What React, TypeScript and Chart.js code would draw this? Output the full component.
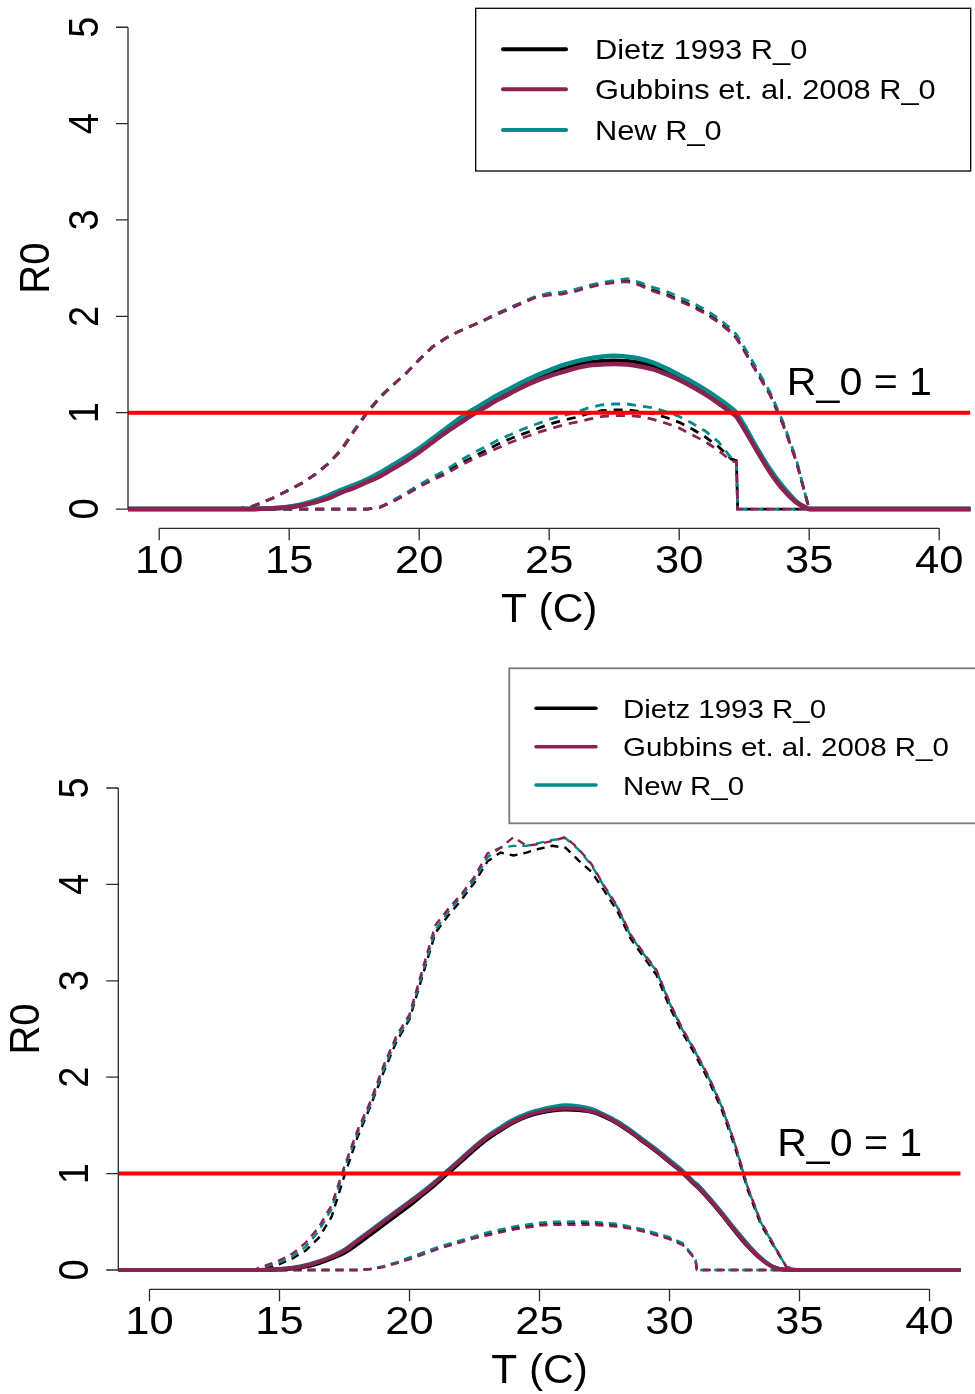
import { useEffect, useRef } from "react";
import { Chart, registerables } from "chart.js";

Chart.register(...registerables);

// ---- shared axis / label content ----
const X_TICKS = [10, 15, 20, 25, 30, 35, 40];
const Y_TICKS = [0, 1, 2, 3, 4, 5];
const X_MIN = 8.8;
const X_MAX = 41.2;
const Y_MIN = -0.2;
const Y_MAX = 5.2;
const X_TITLE = "T (C)";
const Y_TITLE = "R0";
const THRESHOLD = 1;
const THRESHOLD_LABEL = "R_0 = 1";
const THRESHOLD_LABEL_AT = [36.93, 1.18];
const LEGEND_LABELS = ["Dietz 1993 R_0", "Gubbins et. al. 2008 R_0", "New R_0"];
const SERIES_COLORS = ["#000000", "#8B2252", "#008B8B"];
const THRESHOLD_COLOR = "#FF0000";

// ---- panel A (upper figure) ----
const TEMP_A = [8, 13, 13.5, 14, 14.5, 15, 15.5, 16, 16.5, 17, 17.5, 18, 18.5, 19, 19.5, 20, 20.5, 21, 21.5, 22, 22.5, 23, 23.5, 24, 24.5, 25, 25.5, 26, 26.5, 27, 27.5, 28, 28.5, 29, 29.5, 30, 30.5, 31, 31.5, 32, 32.2, 32.25, 32.5, 33, 33.5, 34, 34.5, 34.9, 35, 42];

const DIETZ_A = [0, 0, 0, 0.004, 0.01, 0.02, 0.045, 0.08, 0.13, 0.19, 0.24, 0.30, 0.36, 0.44, 0.52, 0.61, 0.71, 0.81, 0.90, 0.99, 1.07, 1.15, 1.22, 1.29, 1.35, 1.40, 1.45, 1.49, 1.52, 1.535, 1.54, 1.535, 1.515, 1.48, 1.43, 1.36, 1.29, 1.21, 1.12, 1.02, 0.98, 0.96, 0.85, 0.61, 0.39, 0.21, 0.07, 0.01, 0, 0];
const GUBBINS_A = [0, 0, 0, 0.003, 0.008, 0.018, 0.04, 0.07, 0.11, 0.17, 0.22, 0.28, 0.34, 0.42, 0.50, 0.59, 0.69, 0.79, 0.88, 0.97, 1.05, 1.13, 1.20, 1.27, 1.33, 1.38, 1.42, 1.46, 1.49, 1.50, 1.505, 1.50, 1.48, 1.45, 1.40, 1.34, 1.27, 1.19, 1.10, 1.00, 0.96, 0.94, 0.83, 0.60, 0.38, 0.20, 0.07, 0.01, 0, 0];
const NEW_A = [0, 0, 0, 0.005, 0.012, 0.025, 0.05, 0.09, 0.14, 0.20, 0.25, 0.31, 0.38, 0.46, 0.54, 0.63, 0.73, 0.83, 0.93, 1.02, 1.10, 1.18, 1.25, 1.32, 1.385, 1.44, 1.49, 1.53, 1.56, 1.58, 1.59, 1.58, 1.56, 1.52, 1.46, 1.39, 1.32, 1.24, 1.15, 1.05, 1.00, 0.98, 0.87, 0.63, 0.41, 0.23, 0.08, 0.01, 0, 0];

const DIETZ_A_UPPER = [0, 0, 0.02, 0.07, 0.13, 0.20, 0.27, 0.36, 0.47, 0.61, 0.81, 1.00, 1.16, 1.29, 1.41, 1.55, 1.68, 1.77, 1.84, 1.90, 1.96, 2.03, 2.09, 2.15, 2.20, 2.23, 2.24, 2.27, 2.31, 2.34, 2.36, 2.37, 2.33, 2.27, 2.23, 2.17, 2.11, 2.04, 1.95, 1.84, 1.78, 1.76, 1.65, 1.42, 1.19, 0.88, 0.50, 0.10, 0, 0];
const GUBBINS_A_UPPER = [0, 0, 0.02, 0.07, 0.13, 0.20, 0.27, 0.36, 0.47, 0.61, 0.81, 1.00, 1.16, 1.29, 1.41, 1.55, 1.68, 1.77, 1.84, 1.90, 1.96, 2.02, 2.08, 2.14, 2.20, 2.22, 2.23, 2.26, 2.30, 2.33, 2.35, 2.36, 2.32, 2.26, 2.22, 2.16, 2.10, 2.03, 1.94, 1.83, 1.77, 1.75, 1.64, 1.41, 1.18, 0.87, 0.50, 0.10, 0, 0];
const NEW_A_UPPER = [0, 0, 0.02, 0.07, 0.13, 0.20, 0.27, 0.36, 0.47, 0.62, 0.82, 1.01, 1.17, 1.29, 1.41, 1.55, 1.68, 1.77, 1.84, 1.90, 1.96, 2.03, 2.09, 2.15, 2.21, 2.24, 2.25, 2.28, 2.32, 2.35, 2.37, 2.39, 2.35, 2.30, 2.26, 2.20, 2.14, 2.07, 1.98, 1.87, 1.81, 1.79, 1.68, 1.45, 1.21, 0.90, 0.52, 0.10, 0, 0];

const DIETZ_A_LOWER = [0, 0, 0, 0, 0, 0, 0, 0, 0, 0, 0, 0, 0.02, 0.08, 0.16, 0.24, 0.31, 0.38, 0.46, 0.53, 0.60, 0.67, 0.73, 0.78, 0.83, 0.88, 0.92, 0.95, 0.99, 1.02, 1.03, 1.03, 1.01, 0.99, 0.95, 0.90, 0.83, 0.75, 0.65, 0.52, 0.50, 0, 0, 0, 0, 0, 0, 0, 0, 0];
const GUBBINS_A_LOWER = [0, 0, 0, 0, 0, 0, 0, 0, 0, 0, 0, 0, 0.02, 0.08, 0.15, 0.23, 0.30, 0.36, 0.44, 0.51, 0.57, 0.63, 0.69, 0.74, 0.79, 0.83, 0.87, 0.90, 0.93, 0.96, 0.97, 0.97, 0.96, 0.93, 0.89, 0.84, 0.77, 0.70, 0.61, 0.50, 0.49, 0, 0, 0, 0, 0, 0, 0, 0, 0];
const NEW_A_LOWER = [0, 0, 0, 0, 0, 0, 0, 0, 0, 0, 0, 0, 0.02, 0.09, 0.17, 0.25, 0.33, 0.40, 0.49, 0.57, 0.64, 0.71, 0.77, 0.83, 0.88, 0.93, 0.97, 1.00, 1.05, 1.08, 1.09, 1.09, 1.07, 1.05, 1.01, 0.96, 0.89, 0.81, 0.70, 0.53, 0.50, 0, 0, 0, 0, 0, 0, 0, 0, 0];

// ---- panel B (lower figure) ----
const TEMP_B = [8, 14, 14.5, 15, 15.5, 16, 16.5, 17, 17.5, 18, 18.5, 19, 19.5, 20, 20.5, 21, 21.5, 22, 22.5, 23, 23.5, 24, 24.5, 25, 25.5, 26, 26.5, 27, 27.5, 28, 28.5, 29, 29.5, 30, 30.5, 31, 31.05, 31.5, 32, 32.5, 33, 33.5, 34, 34.5, 35, 42];

const DIETZ_B = [0, 0, 0, 0.005, 0.015, 0.035, 0.07, 0.12, 0.18, 0.27, 0.37, 0.47, 0.57, 0.67, 0.78, 0.89, 1.01, 1.13, 1.25, 1.36, 1.45, 1.53, 1.59, 1.63, 1.655, 1.665, 1.66, 1.64, 1.59, 1.52, 1.43, 1.33, 1.23, 1.12, 1.01, 0.88, 0.87, 0.74, 0.58, 0.41, 0.25, 0.12, 0.03, 0, 0, 0];
const GUBBINS_B = [0, 0, 0.003, 0.01, 0.022, 0.045, 0.085, 0.135, 0.20, 0.30, 0.40, 0.50, 0.60, 0.70, 0.80, 0.91, 1.03, 1.15, 1.27, 1.38, 1.46, 1.54, 1.60, 1.64, 1.665, 1.675, 1.67, 1.645, 1.60, 1.525, 1.435, 1.335, 1.235, 1.125, 1.015, 0.885, 0.875, 0.745, 0.585, 0.415, 0.255, 0.12, 0.03, 0, 0, 0];
const NEW_B = [0, 0, 0.003, 0.01, 0.025, 0.05, 0.09, 0.14, 0.21, 0.31, 0.41, 0.51, 0.61, 0.71, 0.81, 0.92, 1.04, 1.16, 1.28, 1.39, 1.48, 1.56, 1.62, 1.66, 1.69, 1.71, 1.70, 1.67, 1.61, 1.54, 1.45, 1.35, 1.25, 1.14, 1.03, 0.90, 0.89, 0.76, 0.60, 0.43, 0.27, 0.13, 0.03, 0, 0, 0];

const DIETZ_B_UPPER = [0, 0, 0.02, 0.06, 0.12, 0.20, 0.33, 0.55, 0.98, 1.38, 1.70, 2.05, 2.37, 2.60, 3.05, 3.50, 3.68, 3.84, 4.02, 4.24, 4.33, 4.30, 4.33, 4.37, 4.40, 4.38, 4.25, 4.13, 3.93, 3.72, 3.44, 3.25, 3.06, 2.73, 2.46, 2.23, 2.20, 1.97, 1.67, 1.29, 0.84, 0.48, 0.25, 0.03, 0, 0];
const GUBBINS_B_UPPER = [0, 0, 0.05, 0.10, 0.17, 0.28, 0.44, 0.67, 1.08, 1.45, 1.75, 2.12, 2.43, 2.65, 3.12, 3.58, 3.75, 3.90, 4.08, 4.32, 4.38, 4.49, 4.40, 4.42, 4.45, 4.49, 4.37, 4.21, 3.98, 3.77, 3.48, 3.29, 3.11, 2.78, 2.50, 2.27, 2.24, 2.01, 1.71, 1.33, 0.87, 0.51, 0.27, 0.03, 0, 0];
const NEW_B_UPPER = [0, 0, 0.04, 0.08, 0.14, 0.24, 0.40, 0.63, 1.05, 1.42, 1.72, 2.08, 2.40, 2.62, 3.08, 3.53, 3.72, 3.88, 4.05, 4.28, 4.38, 4.40, 4.40, 4.43, 4.46, 4.48, 4.36, 4.20, 3.97, 3.76, 3.47, 3.28, 3.10, 2.77, 2.49, 2.26, 2.23, 2.00, 1.70, 1.32, 0.86, 0.50, 0.26, 0.03, 0, 0];

const DIETZ_B_LOWER = [0, 0, 0, 0, 0, 0, 0, 0, 0, 0, 0.01, 0.035, 0.075, 0.12, 0.17, 0.22, 0.26, 0.30, 0.34, 0.375, 0.405, 0.435, 0.455, 0.475, 0.485, 0.485, 0.49, 0.485, 0.475, 0.465, 0.44, 0.41, 0.37, 0.33, 0.27, 0.115, 0, 0, 0, 0, 0, 0, 0, 0, 0, 0];
const GUBBINS_B_LOWER = [0, 0, 0, 0, 0, 0, 0, 0, 0, 0, 0.01, 0.03, 0.07, 0.11, 0.16, 0.21, 0.25, 0.29, 0.33, 0.36, 0.39, 0.42, 0.44, 0.46, 0.47, 0.47, 0.47, 0.47, 0.46, 0.45, 0.43, 0.40, 0.36, 0.32, 0.26, 0.11, 0, 0, 0, 0, 0, 0, 0, 0, 0, 0];
const NEW_B_LOWER = [0, 0, 0, 0, 0, 0, 0, 0, 0, 0, 0.01, 0.04, 0.08, 0.13, 0.18, 0.23, 0.27, 0.31, 0.35, 0.39, 0.42, 0.45, 0.47, 0.49, 0.50, 0.50, 0.505, 0.50, 0.49, 0.48, 0.45, 0.42, 0.38, 0.34, 0.28, 0.12, 0, 0, 0, 0, 0, 0, 0, 0, 0, 0];

// ---- styling & layout ----
const FONT = '"Liberation Sans", Arial, Helvetica, sans-serif';
const AXIS_COLOR = "#2a2a2a";
const TICK_LEN = 12;

type LegendLayout = {
  x: number; y: number; w: number; h: number;
  rows: number[]; lineX0: number; lineX1: number; textX: number; textDy: number;
  font: number; lineW: number; border: string; borderW: number;
};

type PanelSpec = {
  top: number;
  height: number;
  pad: { left: number; right: number; top: number; bottom: number };
  legend: LegendLayout;
  solidW: number;
  dashW: number;
  dash: number[];
  temps: number[];
  mean: number[][];
  upper: number[][];
  lower: number[][];
};

const PANELS: PanelSpec[] = [
  {
    top: 0,
    height: 650,
    pad: { left: 128, right: 4.6, top: 8.0, bottom: 121.7 },
    legend: { x: 475.7, y: 8.3, w: 495, h: 162.7, rows: [49.3, 89.3, 130], lineX0: 503, lineX1: 566, textX: 595, textDy: 10, font: 27.5, lineW: 4, border: "#000000", borderW: 1.3 },
    solidW: 4.5,
    dashW: 2.8,
    dash: [9, 7],
    temps: TEMP_A,
    mean: [DIETZ_A, GUBBINS_A, NEW_A],
    upper: [DIETZ_A_UPPER, GUBBINS_A_UPPER, NEW_A_UPPER],
    lower: [DIETZ_A_LOWER, GUBBINS_A_LOWER, NEW_A_LOWER],
  },
  {
    top: 650,
    height: 744,
    pad: { left: 118.3, right: 14.3, top: 118.7, bottom: 104.7 },
    legend: { x: 509.3, y: 18.3, w: 495, h: 155, rows: [58.3, 96.7, 135], lineX0: 536, lineX1: 596, textX: 623, textDy: 9.5, font: 26.3, lineW: 3.5, border: "#7a7a7a", borderW: 1.8 },
    solidW: 4,
    dashW: 2.4,
    dash: [8, 6],
    temps: TEMP_B,
    mean: [DIETZ_B, GUBBINS_B, NEW_B],
    upper: [DIETZ_B_UPPER, GUBBINS_B_UPPER, NEW_B_UPPER],
    lower: [DIETZ_B_LOWER, GUBBINS_B_LOWER, NEW_B_LOWER],
  },
];

function drawText(
  ctx: CanvasRenderingContext2D,
  text: string,
  x: number,
  y: number,
  size: number,
  opts: { align?: CanvasTextAlign; rotate?: number; stretch?: number } = {}
) {
  const { align = "center", rotate = 0, stretch = 1.12 } = opts;
  ctx.save();
  ctx.translate(x, y);
  ctx.scale(stretch, 1);
  if (rotate) ctx.rotate(rotate);
  ctx.font = `${size}px ${FONT}`;
  ctx.textAlign = align;
  ctx.textBaseline = "alphabetic";
  ctx.fillStyle = "#000";
  ctx.fillText(text, 0, 0);
  ctx.restore();
}

function framePlugin(spec: PanelSpec) {
  return {
    id: "rFrame",
    afterDraw(chart: any) {
      const { ctx, chartArea: ca } = chart;
      const xs = chart.scales.x;
      const ys = chart.scales.y;
      ctx.save();

      // axes: line spans first..last tick, ticks point outward
      ctx.strokeStyle = AXIS_COLOR;
      ctx.lineWidth = 1.3;
      ctx.beginPath();
      const xa = xs.getPixelForValue(X_TICKS[0]);
      const xb = xs.getPixelForValue(X_TICKS[X_TICKS.length - 1]);
      ctx.moveTo(xa, ca.bottom);
      ctx.lineTo(xb, ca.bottom);
      X_TICKS.forEach((t) => {
        const px = xs.getPixelForValue(t);
        ctx.moveTo(px, ca.bottom);
        ctx.lineTo(px, ca.bottom + TICK_LEN);
      });
      const ya = ys.getPixelForValue(Y_TICKS[0]);
      const yb = ys.getPixelForValue(Y_TICKS[Y_TICKS.length - 1]);
      ctx.moveTo(ca.left, ya);
      ctx.lineTo(ca.left, yb);
      Y_TICKS.forEach((v) => {
        const py = ys.getPixelForValue(v);
        ctx.moveTo(ca.left, py);
        ctx.lineTo(ca.left - TICK_LEN, py);
      });
      ctx.stroke();

      // tick labels
      X_TICKS.forEach((t) => {
        drawText(ctx, String(t), xs.getPixelForValue(t), ca.bottom + 44.7, 38.5, { stretch: 1.13 });
      });
      Y_TICKS.forEach((v) => {
        drawText(ctx, String(v), ca.left - 30, ys.getPixelForValue(v), 38, { rotate: -Math.PI / 2, stretch: 1.12 });
      });

      // axis titles
      drawText(ctx, X_TITLE, (ca.left + ca.right) / 2, ca.bottom + 94, 40, { stretch: 1.06 });
      drawText(ctx, Y_TITLE, ca.left - 79, (ca.top + ca.bottom) / 2, 40, { rotate: -Math.PI / 2, stretch: 1.08 });

      // threshold annotation
      drawText(
        ctx,
        THRESHOLD_LABEL,
        xs.getPixelForValue(THRESHOLD_LABEL_AT[0]),
        ys.getPixelForValue(THRESHOLD_LABEL_AT[1]),
        39.5,
        { stretch: 1.04 }
      );

      // legend
      const L = spec.legend;
      ctx.fillStyle = "#ffffff";
      ctx.fillRect(L.x, L.y, L.w, L.h);
      ctx.strokeStyle = L.border;
      ctx.lineWidth = L.borderW;
      ctx.strokeRect(L.x, L.y, L.w, L.h);
      LEGEND_LABELS.forEach((label, i) => {
        const ry = L.rows[i];
        ctx.strokeStyle = SERIES_COLORS[i];
        ctx.lineWidth = L.lineW;
        ctx.lineCap = "round";
        ctx.beginPath();
        ctx.moveTo(L.lineX0, ry);
        ctx.lineTo(L.lineX1, ry);
        ctx.stroke();
        drawText(ctx, label, L.textX, ry + L.textDy, L.font, { align: "left", stretch: 1.12 });
      });

      ctx.restore();
    },
  };
}

function buildDatasets(spec: PanelSpec) {
  const pts = (vals: number[]) => spec.temps.map((t, i) => ({ x: t, y: vals[i] }));
  const drawOrder = [0, 2, 1]; // black, teal, then purple on top
  const list: any[] = [];
  [spec.upper, spec.lower].forEach((band) => {
    drawOrder.forEach((k) => {
      list.push({
        data: pts(band[k]),
        borderColor: SERIES_COLORS[k],
        borderWidth: spec.dashW,
        borderDash: spec.dash,
        pointRadius: 0,
        tension: 0,
        fill: false,
      });
    });
  });
  drawOrder.forEach((k) => {
    list.push({
      data: pts(spec.mean[k]),
      borderColor: SERIES_COLORS[k],
      borderWidth: spec.solidW,
      borderCapStyle: "round",
      borderJoinStyle: "round",
      cubicInterpolationMode: "monotone",
      pointRadius: 0,
      fill: false,
    });
  });
  list.push({
    data: [
      { x: X_MIN, y: THRESHOLD },
      { x: X_MAX, y: THRESHOLD },
    ],
    borderColor: THRESHOLD_COLOR,
    borderWidth: 4,
    pointRadius: 0,
    fill: false,
  });
  // earlier entries are painted first
  return list.map((d, i) => ({ ...d, order: list.length - i }));
}

function Panel({ spec }: { spec: PanelSpec }) {
  const ref = useRef<HTMLCanvasElement | null>(null);
  useEffect(() => {
    if (!ref.current) return;
    const chart = new Chart(ref.current, {
      type: "line",
      data: { datasets: buildDatasets(spec) },
      options: {
        animation: false,
        responsive: false,
        maintainAspectRatio: false,
        devicePixelRatio: 1,
        events: [],
        layout: { padding: spec.pad },
        plugins: {
          legend: { display: false },
          tooltip: { enabled: false },
          title: { display: false },
        },
        scales: {
          x: { type: "linear", min: X_MIN, max: X_MAX, display: false },
          y: { type: "linear", min: Y_MIN, max: Y_MAX, display: false },
        },
      },
      plugins: [framePlugin(spec)],
    } as any);
    return () => chart.destroy();
  }, [spec]);
  return (
    <canvas
      ref={ref}
      width={975}
      height={spec.height}
      style={{ position: "absolute", left: 0, top: spec.top, width: 975, height: spec.height, display: "block" }}
    />
  );
}

export default function App() {
  return (
    <div style={{ position: "absolute", left: 0, top: 0, width: 975, height: 1394, background: "#ffffff", overflow: "hidden" }}>
      {PANELS.map((p, i) => (
        <Panel key={i} spec={p} />
      ))}
    </div>
  );
}
